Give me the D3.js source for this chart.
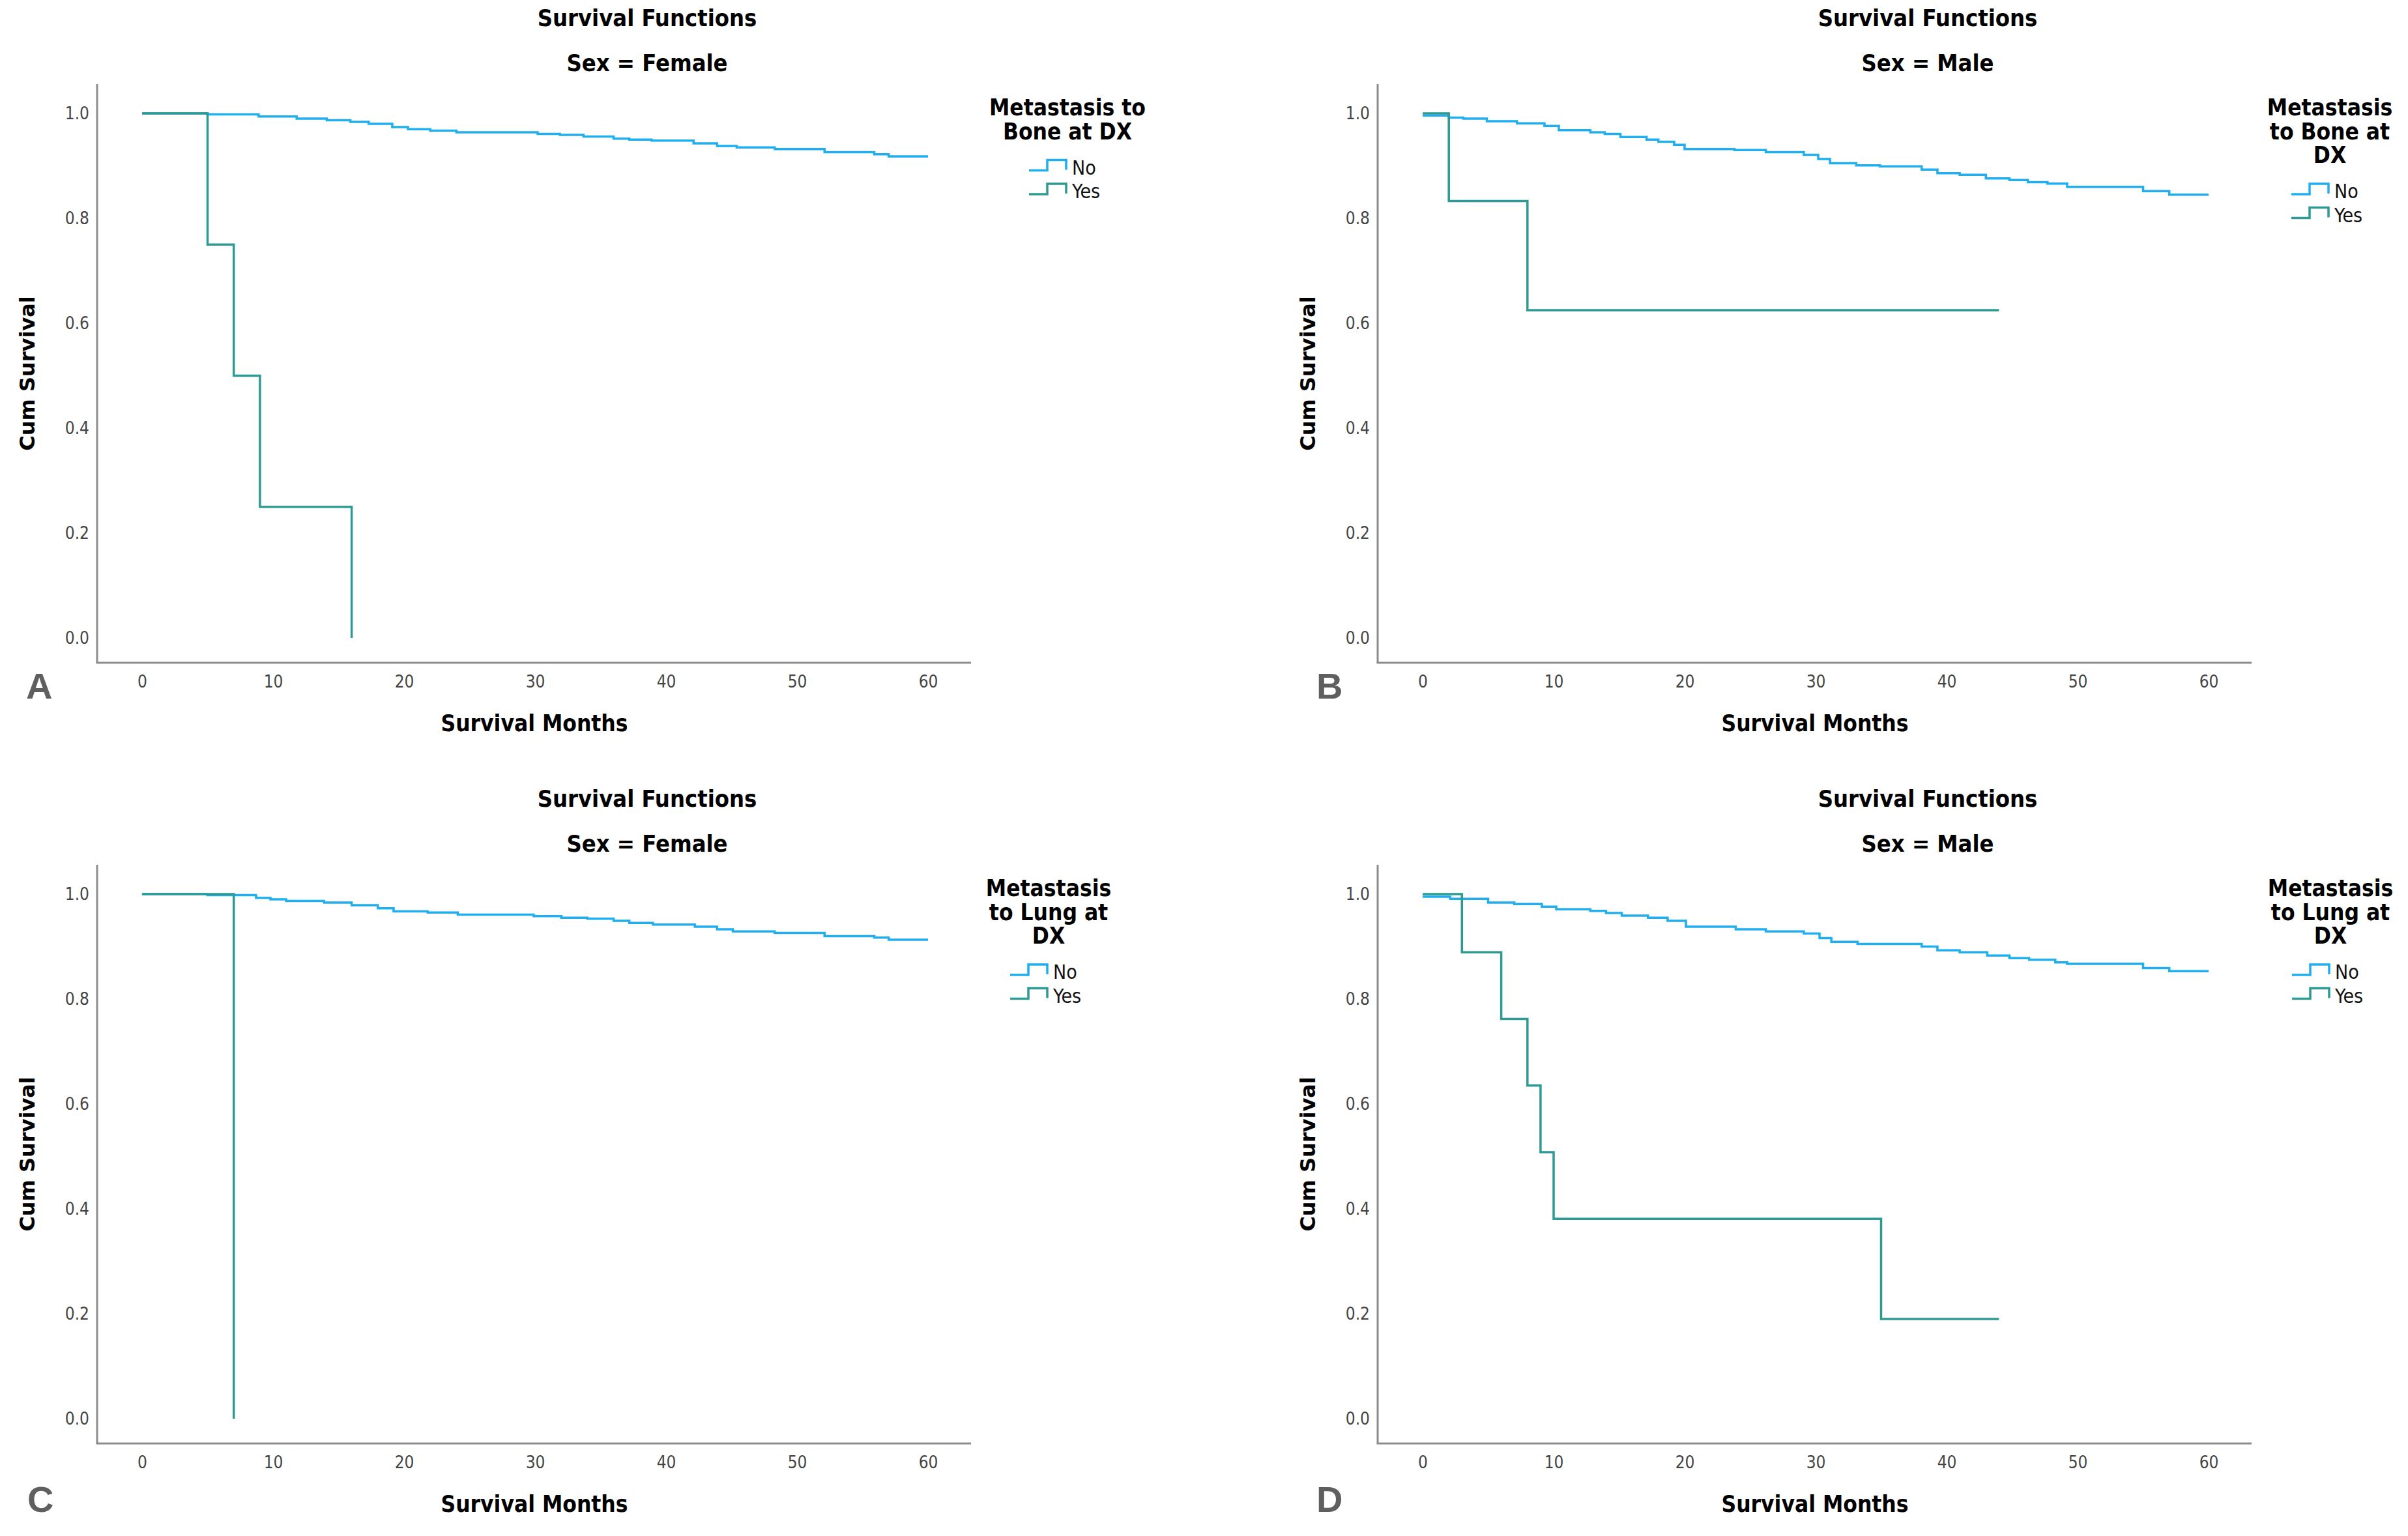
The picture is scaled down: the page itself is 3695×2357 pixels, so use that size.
<!DOCTYPE html>
<html>
<head>
<meta charset="utf-8">
<script src="https://cdn.jsdelivr.net/npm/d3@7/dist/d3.min.js"></script>
<style>
  body { margin: 0; background: #fff; }
  svg text { font-family: "DejaVu Sans Condensed", "DejaVu Sans", sans-serif; font-stretch: condensed; }
</style>
</head>
<body>
<svg id="chart"></svg>
<script>
// tick labels
const monthTicks = [0, 10, 20, 30, 40, 50, 60];
const survTicks = [0, 0.2, 0.4, 0.6, 0.8, 1.0];
const groups = ['No', 'Yes'];

// A: female, bone metastasis
const femaleBoneNoT = [0, 5, 8.9, 11.8, 14.1, 15.9, 17.3, 19.1, 20.3, 22, 24, 30.2, 31.9, 33.7, 36, 37.2, 38.9, 42.1, 43.9, 45.4, 48.3, 52.1, 55.9, 57, 60];
const femaleBoneNoS = [1.0, 0.998, 0.994, 0.99, 0.987, 0.984, 0.98, 0.974, 0.97, 0.967, 0.964, 0.961, 0.959, 0.956, 0.952, 0.95, 0.948, 0.943, 0.938, 0.935, 0.932, 0.926, 0.922, 0.918, 0.918];
const femaleBoneYesT = [0, 5, 7, 9, 16];
const femaleBoneYesS = [1.0, 0.75, 0.5, 0.25, 0];

// B: male, bone metastasis
const maleBoneNoT = [0, 2, 3.1, 4.9, 7.2, 9.3, 10.4, 12.8, 13.9, 15.1, 17.1, 18, 19.2, 20, 23.8, 26.2, 29.1, 30.2, 31.1, 33.1, 34.9, 38.1, 39.3, 41, 43, 44.8, 46.2, 47.7, 49.2, 55, 57, 60];
const maleBoneNoS = [0.996, 0.992, 0.99, 0.985, 0.981, 0.976, 0.968, 0.964, 0.961, 0.955, 0.95, 0.946, 0.94, 0.932, 0.93, 0.926, 0.921, 0.913, 0.905, 0.901, 0.899, 0.893, 0.886, 0.883, 0.876, 0.873, 0.869, 0.866, 0.86, 0.852, 0.845, 0.845];
const maleBoneYesT = [0, 2, 8, 44];
const maleBoneYesS = [1.0, 0.833, 0.625, 0.625];

// C: female, lung metastasis
const femaleLungNoT = [0, 5, 8.7, 9.8, 11, 13.9, 16, 18, 19.2, 21.8, 24.1, 29.9, 32, 34, 36, 37.2, 39, 42.2, 43.9, 45.1, 48.3, 52.1, 55.9, 57, 60];
const femaleLungNoS = [1.0, 0.998, 0.993, 0.99, 0.987, 0.984, 0.979, 0.973, 0.967, 0.965, 0.961, 0.958, 0.955, 0.953, 0.949, 0.945, 0.942, 0.938, 0.933, 0.929, 0.926, 0.92, 0.917, 0.913, 0.913];
const femaleLungYesT = [0, 7];
const femaleLungYesS = [1.0, 0];

// D: male, lung metastasis
const maleLungNoT = [0, 2.1, 5, 7, 9.1, 10.2, 12.8, 14, 15.2, 17.2, 18.7, 20.1, 23.9, 26.2, 29.1, 30.3, 31.2, 33.2, 38.1, 39.3, 41, 43.1, 44.8, 46.3, 48.3, 49.2, 55, 57, 60];
const maleLungNoS = [0.995, 0.991, 0.984, 0.981, 0.976, 0.971, 0.968, 0.964, 0.959, 0.955, 0.949, 0.938, 0.933, 0.929, 0.925, 0.916, 0.909, 0.905, 0.9, 0.893, 0.889, 0.883, 0.878, 0.875, 0.87, 0.867, 0.859, 0.853, 0.853];
const maleLungYesT = [0, 3, 6, 8, 9, 10, 35, 44];
const maleLungYesS = [1.0, 0.889, 0.762, 0.635, 0.508, 0.381, 0.19, 0.19];

const W = 3695, H = 2357;
const colors = {No: '#20aeee', Yes: '#2f9a94'};

const panels = [
  {letter: 'A', sex: 'Female', legend: ['Metastasis to', 'Bone at DX'], no: [femaleBoneNoT, femaleBoneNoS], yes: [femaleBoneYesT, femaleBoneYesS],
   dx: 0, dy: 0, legendX: 1638, letterX: 40, letterY: 1072},
  {letter: 'B', sex: 'Male', legend: ['Metastasis', 'to Bone at', 'DX'], no: [maleBoneNoT, maleBoneNoS], yes: [maleBoneYesT, maleBoneYesS],
   dx: 1965, dy: 0, legendX: 1610, letterX: 55, letterY: 1072},
  {letter: 'C', sex: 'Female', legend: ['Metastasis', 'to Lung at', 'DX'], no: [femaleLungNoT, femaleLungNoS], yes: [femaleLungYesT, femaleLungYesS],
   dx: 0, dy: 1198, legendX: 1609, letterX: 42, letterY: 1122},
  {letter: 'D', sex: 'Male', legend: ['Metastasis', 'to Lung at', 'DX'], no: [maleLungNoT, maleLungNoS], yes: [maleLungYesT, maleLungYesS],
   dx: 1965, dy: 1198, legendX: 1611, letterX: 55, letterY: 1122}
];

const svg = d3.select('#chart').attr('width', W).attr('height', H);

// frame of one plot, in panel coordinates
const frame = {left: 149, right: 1490, top: 129, bottom: 1017};

const drawPanel = (p) => {
  const g = svg.append('g').attr('transform', `translate(${p.dx},${p.dy})`);

  const x = d3.scaleLinear().domain([0, 60]).range([218, 1424]);
  const y = d3.scaleLinear().domain([0, 1]).range([979, 174]);

  // titles
  g.append('text').attr('x', 993).attr('y', 40)
    .attr('text-anchor', 'middle').attr('font-size', 36).attr('font-weight', 'bold')
    .text('Survival Functions');
  g.append('text').attr('x', 993).attr('y', 109)
    .attr('text-anchor', 'middle').attr('font-size', 36).attr('font-weight', 'bold')
    .text(`Sex = ${p.sex}`);

  // axis lines
  g.append('line')
    .attr('x1', frame.left).attr('x2', frame.left)
    .attr('y1', frame.top).attr('y2', frame.bottom)
    .attr('stroke', '#8c8c8c').attr('stroke-width', 3);
  g.append('line')
    .attr('x1', frame.left - 1.5).attr('x2', frame.right)
    .attr('y1', frame.bottom).attr('y2', frame.bottom)
    .attr('stroke', '#8c8c8c').attr('stroke-width', 3);

  // tick labels
  const xAxis = g.append('g')
    .attr('transform', `translate(0,${frame.bottom})`)
    .call(d3.axisBottom(x).tickValues(monthTicks).tickSize(0).tickPadding(20).tickFormat(d3.format('d')));
  xAxis.select('.domain').remove();

  const yAxis = g.append('g')
    .attr('transform', `translate(${frame.left},0)`)
    .call(d3.axisLeft(y).tickValues(survTicks).tickSize(0).tickPadding(12).tickFormat(d3.format('.1f')));
  yAxis.select('.domain').remove();

  g.selectAll('.tick text')
    .attr('font-size', 26)
    .attr('fill', '#444')
    .style('font-family', '"DejaVu Sans Condensed", "DejaVu Sans", sans-serif');

  // axis titles
  g.append('text').attr('x', 820).attr('y', 1122)
    .attr('text-anchor', 'middle').attr('font-size', 35).attr('font-weight', 'bold')
    .text('Survival Months');
  g.append('text')
    .attr('transform', `translate(53,${(frame.top + frame.bottom) / 2}) rotate(-90)`)
    .attr('text-anchor', 'middle').attr('font-size', 32).attr('font-weight', 'bold')
    .style('font-family', '"DejaVu Sans", sans-serif').style('font-stretch', 'normal')
    .text('Cum Survival');

  // survival curves
  const line = d3.line()
    .x(d => x(d[0]))
    .y(d => y(d[1]))
    .curve(d3.curveStepAfter);

  const series = [
    {key: 'No', data: d3.zip(p.no[0], p.no[1])},
    {key: 'Yes', data: d3.zip(p.yes[0], p.yes[1])}
  ];

  g.selectAll('path.km')
    .data(series)
    .enter()
    .append('path')
    .attr('class', 'km')
    .attr('d', d => line(d.data))
    .attr('fill', 'none')
    .attr('stroke', d => colors[d.key])
    .attr('stroke-width', 3.5);

  // legend
  const lg = g.append('g').attr('transform', `translate(${p.legendX},0)`);
  p.legend.forEach((t, i) => {
    lg.append('text').attr('x', 0).attr('y', 177 + i * 36.5)
      .attr('text-anchor', 'middle').attr('font-size', 35).attr('font-weight', 'bold')
      .text(t);
  });
  const itemTop = 177 + (p.legend.length - 1) * 36.5 + 54;
  groups.forEach((k, i) => {
    const by = itemTop + i * 36.5;
    lg.append('path')
      .attr('d', `M-59,${by - 6}H-31V${by - 22}H-2V${by - 7}`)
      .attr('fill', 'none')
      .attr('stroke', colors[k])
      .attr('stroke-width', 3.5);
    lg.append('text').attr('x', 7).attr('y', by)
      .attr('font-size', 30).attr('fill', '#111')
      .text(k);
  });

  // panel letter
  g.append('text').attr('x', p.letterX).attr('y', p.letterY)
    .attr('font-size', 56).attr('font-weight', 'bold').attr('fill', '#5f5f5f')
    .style('font-family', '"Liberation Sans", Arial, sans-serif').style('font-stretch', 'normal')
    .text(p.letter);
};

panels.forEach(drawPanel);
</script>
</body>
</html>
